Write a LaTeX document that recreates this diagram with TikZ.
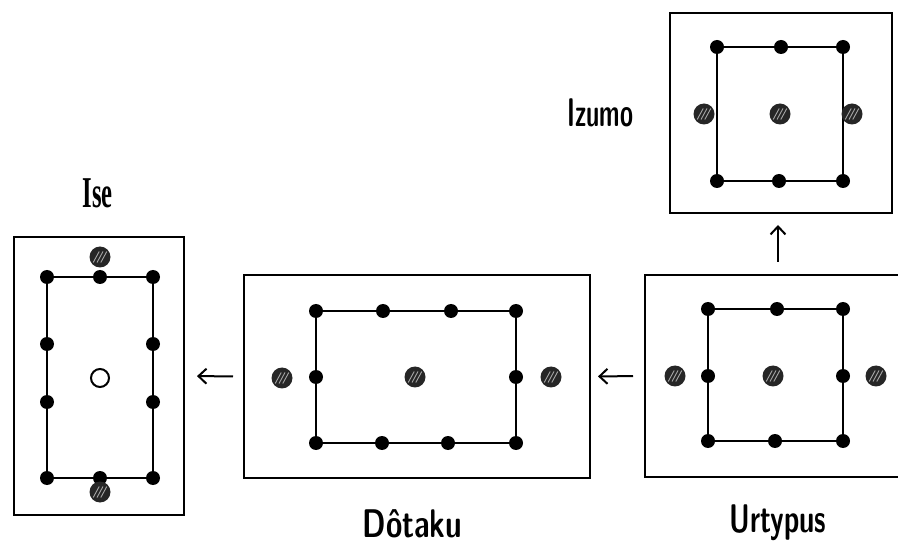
\documentclass[tikz,border=0pt]{standalone}
\usepackage{fontspec}
\usepackage{graphicx}
\newfontfamily\isefont{Liberation Serif}
\usetikzlibrary{arrows.meta}
\begin{document}
\begin{tikzpicture}[x=1pt,y=1pt,
  outerbox/.style={draw=black, line width=2.8pt, rectangle, inner sep=0pt, outer sep=0pt},
  innerline/.style={draw=black, line width=2.8pt, line join=round},
  blackdot/.style={circle, fill=black, minimum size=14pt, inner sep=0pt},
  hatchdot/.style={circle, fill=black!85, minimum size=21pt, inner sep=0pt,
    path picture={\foreach \o in {-3.8,0,3.8}{\draw[white!65!black, line width=0.9pt]
      ([xshift=\o pt]path picture bounding box.center) ++(-3pt,-5.5pt) -- ++(6pt,11pt);}}},
  opendot/.style={circle, draw=black, line width=2pt, fill=white, minimum size=18pt, inner sep=0pt},
  arr/.style={line width=2pt, -{Straight Barb[length=8pt,width=15pt]}},
  lblrm/.style={font=\isefont\bfseries\fontsize{44}{44}\selectfont, inner sep=0pt, anchor=base},
  lblsf/.style={font=\sffamily\bfseries\fontsize{40}{40}\selectfont, inner sep=0pt, anchor=base}]
\useasboundingbox (0,0) rectangle (898,-548);

% ---------- Ise ----------
\node[outerbox, minimum width=170pt, minimum height=278pt] (ise) at (99,-376) {};
\coordinate (i1) at (47,-277);
\coordinate (i3) at (153,-277);
\coordinate (i6) at (153,-478);
\coordinate (i8) at (47,-478);
\draw[innerline] (i1) -- (i3) -- (i6) -- (i8) -- cycle;
\node[blackdot] (id1) at (i1) {};
\node[blackdot] (id2) at (100,-277) {};
\node[blackdot] (id3) at (i3) {};
\node[blackdot] (id4) at (153,-344) {};
\node[blackdot] (id5) at (153,-402) {};
\node[blackdot] (id6) at (i6) {};
\node[blackdot] (id7) at (100,-478) {};
\node[blackdot] (id8) at (i8) {};
\node[blackdot] (id9) at (47,-402) {};
\node[blackdot] (id10) at (47,-344) {};
\node[hatchdot] (ih1) at (100,-257) {};
\node[hatchdot] (ih2) at (100,-492) {};
\node[opendot] (io) at (100,-378) {};
\node[lblrm] (iselbl) at (97.5,-208) {\scalebox{0.56}[1]{Ise}};

% ---------- Dotaku ----------
\node[outerbox, minimum width=346pt, minimum height=203pt] (dot) at (417,-376.5) {};
\coordinate (d1) at (316,-311);
\coordinate (d4) at (516,-311);
\coordinate (d6) at (516,-443);
\coordinate (d9) at (316,-443);
\draw[innerline] (d1) -- (d4) -- (d6) -- (d9) -- cycle;
\node[blackdot] (dd1) at (d1) {};
\node[blackdot] (dd2) at (383,-311) {};
\node[blackdot] (dd3) at (451,-311) {};
\node[blackdot] (dd4) at (d4) {};
\node[blackdot] (dd5) at (516,-377) {};
\node[blackdot] (dd6) at (d6) {};
\node[blackdot] (dd7) at (448,-443) {};
\node[blackdot] (dd8) at (382,-443) {};
\node[blackdot] (dd9) at (d9) {};
\node[blackdot] (dd10) at (316,-377) {};
\node[hatchdot] (dh1) at (282,-378) {};
\node[hatchdot] (dh2) at (415,-377) {};
\node[hatchdot] (dh3) at (551,-377) {};
\node[lblsf] (dotlbl) at (412.5,-537) {\scalebox{0.74}[1]{Dôtaku}};

% ---------- Urtypus ----------
\draw[line width=2.8pt, line join=miter] (898,-275) -- (645,-275) -- (645,-477) -- (898,-477);
\coordinate (urtL) at (645,-376);
\coordinate (urtT) at (778,-275);
\coordinate (u1) at (708,-309);
\coordinate (u3) at (843,-309);
\coordinate (u5) at (843,-441);
\coordinate (u7) at (708,-441);
\draw[innerline] (u1) -- (u3) -- (u5) -- (u7) -- cycle;
\node[blackdot] (ud1) at (u1) {};
\node[blackdot] (ud2) at (777,-309) {};
\node[blackdot] (ud3) at (u3) {};
\node[blackdot] (ud4) at (843,-376) {};
\node[blackdot] (ud5) at (u5) {};
\node[blackdot] (ud6) at (775,-441) {};
\node[blackdot] (ud7) at (u7) {};
\node[blackdot] (ud8) at (708,-376) {};
\node[hatchdot] (uh1) at (675,-376) {};
\node[hatchdot] (uh2) at (773,-376) {};
\node[hatchdot] (uh3) at (876,-376) {};
\node[lblsf] (urtlbl) at (778,-532) {\scalebox{0.68}[1]{Urtypus}};

% ---------- Izumo ----------
\node[outerbox, minimum width=222pt, minimum height=200pt] (izu) at (781,-113) {};
\coordinate (z1) at (717,-47);
\coordinate (z3) at (843,-47);
\coordinate (z5) at (843,-181);
\coordinate (z7) at (717,-181);
\draw[innerline] (z1) -- (z3) -- (z5) -- (z7) -- cycle;
\node[blackdot] (zd1) at (z1) {};
\node[blackdot] (zd2) at (781,-47) {};
\node[blackdot] (zd3) at (z3) {};
\node[blackdot] (zd5) at (z5) {};
\node[blackdot] (zd6) at (779,-181) {};
\node[blackdot] (zd7) at (z7) {};
\node[hatchdot] (zh1) at (704,-114) {};
\node[hatchdot] (zh2) at (780,-114) {};
\node[hatchdot] (zh3) at (852,-114) {};
\node[lblsf] (izulbl) at (600.5,-127) {\scalebox{0.59}[1]{Izumo}};

% ---------- arrows ----------
\draw[arr, shorten <=12pt, shorten >=8pt] (urtL) -- (dot.east);
\draw[arr, shorten <=11pt, shorten >=13pt] (dot.west) -- (ise.east);
\draw[arr, shorten <=13pt, shorten >=12pt] (urtT) -- (urtT |- izu.south);
\end{tikzpicture}
\end{document}
